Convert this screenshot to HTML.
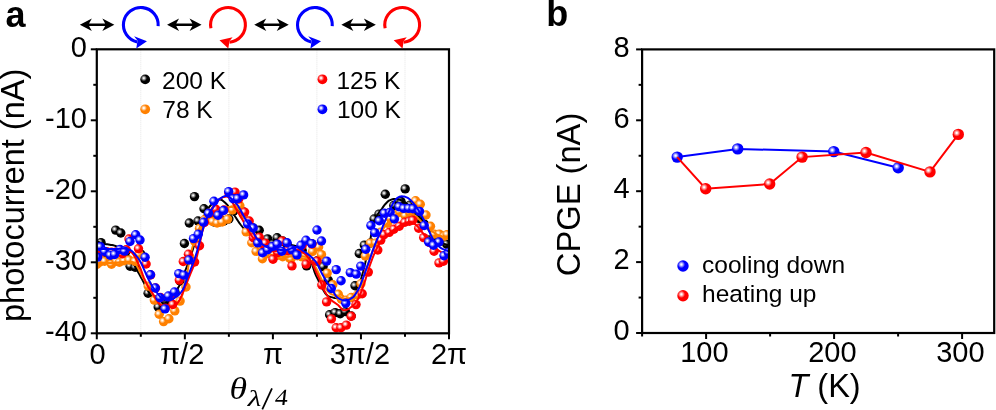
<!DOCTYPE html>
<html><head><meta charset="utf-8"><style>
html,body{margin:0;padding:0;background:#fff;width:996px;height:410px;overflow:hidden}
svg{display:block;will-change:transform}
</style></head><body>
<svg width="996" height="410" viewBox="0 0 996 410">
<defs>
<radialGradient id="gk" cx="0.36" cy="0.37" r="0.32">
<stop offset="0" stop-color="#f4f4f4"/><stop offset="0.15" stop-color="#f4f4f4"/>
<stop offset="1" stop-color="#000"/></radialGradient>
<radialGradient id="gr" cx="0.36" cy="0.37" r="0.32">
<stop offset="0" stop-color="#fff"/><stop offset="0.15" stop-color="#fff"/>
<stop offset="1" stop-color="#ff0000"/></radialGradient>
<radialGradient id="gb" cx="0.36" cy="0.37" r="0.32">
<stop offset="0" stop-color="#fff"/><stop offset="0.15" stop-color="#fff"/>
<stop offset="1" stop-color="#0000ff"/></radialGradient>
<radialGradient id="go" cx="0.36" cy="0.37" r="0.32">
<stop offset="0" stop-color="#fff"/><stop offset="0.15" stop-color="#fff"/>
<stop offset="1" stop-color="#ff8000"/></radialGradient>
<clipPath id="ca"><rect x="96.8" y="49.3" width="352.2" height="284.0"/></clipPath>
</defs>
<text x="5.5" y="26.5" font-family="Liberation Sans, sans-serif" font-size="36" font-weight="bold">a</text>
<text x="546.3" y="26.3" font-family="Liberation Sans, sans-serif" font-size="36" font-weight="bold">b</text>
<line x1="140.8" y1="50.3" x2="140.8" y2="332.3" stroke="#e4e4e4" stroke-width="1" stroke-dasharray="1,1"/>
<line x1="228.9" y1="50.3" x2="228.9" y2="332.3" stroke="#e4e4e4" stroke-width="1" stroke-dasharray="1,1"/>
<line x1="316.9" y1="50.3" x2="316.9" y2="332.3" stroke="#e4e4e4" stroke-width="1" stroke-dasharray="1,1"/>
<line x1="405.0" y1="50.3" x2="405.0" y2="332.3" stroke="#e4e4e4" stroke-width="1" stroke-dasharray="1,1"/>
<g clip-path="url(#ca)">
<circle cx="96.8" cy="250.0" r="4.7" fill="url(#gk)"/>
<circle cx="101.0" cy="242.6" r="4.7" fill="url(#gk)"/>
<circle cx="106.6" cy="253.0" r="4.7" fill="url(#gk)"/>
<circle cx="111.5" cy="255.0" r="4.7" fill="url(#gk)"/>
<circle cx="115.7" cy="230.1" r="4.7" fill="url(#gk)"/>
<circle cx="120.8" cy="233.0" r="4.7" fill="url(#gk)"/>
<circle cx="126.2" cy="251.1" r="4.7" fill="url(#gk)"/>
<circle cx="130.1" cy="266.3" r="4.7" fill="url(#gk)"/>
<circle cx="135.2" cy="267.3" r="4.7" fill="url(#gk)"/>
<circle cx="140.8" cy="254.0" r="4.7" fill="url(#gk)"/>
<circle cx="148.1" cy="293.2" r="4.7" fill="url(#gk)"/>
<circle cx="155.5" cy="299.9" r="4.7" fill="url(#gk)"/>
<circle cx="158.2" cy="307.0" r="4.7" fill="url(#gk)"/>
<circle cx="165.3" cy="301.1" r="4.7" fill="url(#gk)"/>
<circle cx="170.2" cy="296.7" r="4.7" fill="url(#gk)"/>
<circle cx="175.1" cy="292.6" r="4.7" fill="url(#gk)"/>
<circle cx="180.0" cy="281.0" r="4.7" fill="url(#gk)"/>
<circle cx="184.4" cy="243.5" r="4.7" fill="url(#gk)"/>
<circle cx="189.3" cy="223.0" r="4.7" fill="url(#gk)"/>
<circle cx="194.5" cy="196.6" r="4.7" fill="url(#gk)"/>
<circle cx="198.0" cy="221.0" r="4.7" fill="url(#gk)"/>
<circle cx="204.0" cy="208.8" r="4.7" fill="url(#gk)"/>
<circle cx="209.3" cy="215.5" r="4.7" fill="url(#gk)"/>
<circle cx="214.2" cy="222.0" r="4.7" fill="url(#gk)"/>
<circle cx="219.1" cy="222.0" r="4.7" fill="url(#gk)"/>
<circle cx="224.0" cy="221.0" r="4.7" fill="url(#gk)"/>
<circle cx="228.9" cy="219.0" r="4.7" fill="url(#gk)"/>
<circle cx="233.8" cy="211.0" r="4.7" fill="url(#gk)"/>
<circle cx="238.7" cy="206.0" r="4.7" fill="url(#gk)"/>
<circle cx="243.6" cy="212.0" r="4.7" fill="url(#gk)"/>
<circle cx="248.4" cy="224.0" r="4.7" fill="url(#gk)"/>
<circle cx="253.3" cy="228.0" r="4.7" fill="url(#gk)"/>
<circle cx="259.2" cy="230.2" r="4.7" fill="url(#gk)"/>
<circle cx="263.1" cy="252.0" r="4.7" fill="url(#gk)"/>
<circle cx="267.6" cy="238.9" r="4.7" fill="url(#gk)"/>
<circle cx="272.9" cy="244.0" r="4.7" fill="url(#gk)"/>
<circle cx="277.1" cy="237.8" r="4.7" fill="url(#gk)"/>
<circle cx="282.7" cy="241.0" r="4.7" fill="url(#gk)"/>
<circle cx="287.6" cy="245.6" r="4.7" fill="url(#gk)"/>
<circle cx="292.5" cy="250.0" r="4.7" fill="url(#gk)"/>
<circle cx="297.4" cy="254.0" r="4.7" fill="url(#gk)"/>
<circle cx="302.2" cy="250.6" r="4.7" fill="url(#gk)"/>
<circle cx="306.6" cy="265.9" r="4.7" fill="url(#gk)"/>
<circle cx="312.0" cy="244.0" r="4.7" fill="url(#gk)"/>
<circle cx="316.9" cy="261.0" r="4.7" fill="url(#gk)"/>
<circle cx="323.1" cy="266.6" r="4.7" fill="url(#gk)"/>
<circle cx="328.2" cy="280.1" r="4.7" fill="url(#gk)"/>
<circle cx="329.6" cy="314.8" r="4.7" fill="url(#gk)"/>
<circle cx="335.2" cy="312.6" r="4.7" fill="url(#gk)"/>
<circle cx="340.2" cy="313.8" r="4.7" fill="url(#gk)"/>
<circle cx="345.4" cy="311.6" r="4.7" fill="url(#gk)"/>
<circle cx="351.2" cy="316.0" r="4.7" fill="url(#gk)"/>
<circle cx="355.0" cy="285.8" r="4.7" fill="url(#gk)"/>
<circle cx="359.3" cy="253.5" r="4.7" fill="url(#gk)"/>
<circle cx="364.3" cy="245.1" r="4.7" fill="url(#gk)"/>
<circle cx="370.7" cy="243.0" r="4.7" fill="url(#gk)"/>
<circle cx="374.1" cy="219.0" r="4.7" fill="url(#gk)"/>
<circle cx="379.0" cy="214.1" r="4.7" fill="url(#gk)"/>
<circle cx="385.3" cy="194.3" r="4.7" fill="url(#gk)"/>
<circle cx="390.3" cy="212.4" r="4.7" fill="url(#gk)"/>
<circle cx="393.8" cy="205.5" r="4.7" fill="url(#gk)"/>
<circle cx="401.0" cy="201.5" r="4.7" fill="url(#gk)"/>
<circle cx="405.2" cy="188.9" r="4.7" fill="url(#gk)"/>
<circle cx="409.9" cy="205.1" r="4.7" fill="url(#gk)"/>
<circle cx="414.8" cy="210.3" r="4.7" fill="url(#gk)"/>
<circle cx="419.7" cy="218.8" r="4.7" fill="url(#gk)"/>
<circle cx="424.5" cy="224.2" r="4.7" fill="url(#gk)"/>
<circle cx="429.4" cy="240.0" r="4.7" fill="url(#gk)"/>
<circle cx="434.3" cy="238.2" r="4.7" fill="url(#gk)"/>
<circle cx="439.2" cy="239.5" r="4.7" fill="url(#gk)"/>
<circle cx="446.7" cy="244.2" r="4.7" fill="url(#gk)"/>
<path d="M96.8,241.0 L98.0,241.6 L99.2,242.1 L100.3,242.6 L101.5,243.0 L102.7,243.4 L103.9,243.7 L105.0,244.0 L106.2,244.2 L107.4,244.3 L108.6,244.5 L109.8,244.7 L110.9,244.9 L112.1,245.1 L113.3,245.3 L114.5,245.6 L115.6,246.0 L116.8,246.4 L118.0,246.8 L119.2,247.3 L120.4,247.8 L121.5,248.5 L122.7,249.1 L123.9,249.9 L125.1,250.9 L126.2,252.4 L127.4,254.0 L128.6,255.8 L129.8,257.7 L131.0,259.5 L132.1,261.5 L133.3,263.6 L134.5,265.7 L135.7,267.8 L136.8,269.9 L138.0,272.0 L139.2,274.1 L140.4,276.3 L141.6,278.4 L142.7,280.6 L143.9,282.8 L145.1,285.2 L146.3,287.6 L147.5,289.9 L148.6,292.0 L149.8,293.5 L151.0,294.9 L152.2,296.2 L153.3,297.4 L154.5,298.3 L155.7,298.9 L156.9,299.3 L158.1,299.6 L159.2,299.9 L160.4,300.1 L161.6,300.3 L162.8,300.5 L163.9,300.5 L165.1,300.4 L166.3,300.0 L167.5,299.4 L168.7,298.6 L169.8,297.7 L171.0,296.8 L172.2,295.8 L173.4,294.7 L174.5,293.3 L175.7,291.6 L176.9,289.8 L178.1,287.9 L179.3,285.6 L180.4,283.0 L181.6,280.1 L182.8,277.1 L184.0,274.1 L185.1,271.1 L186.3,268.0 L187.5,264.8 L188.7,261.6 L189.9,258.2 L191.0,254.8 L192.2,251.4 L193.4,247.6 L194.6,243.6 L195.7,239.4 L196.9,235.2 L198.1,231.2 L199.3,227.3 L200.5,223.8 L201.6,220.8 L202.8,218.3 L204.0,215.9 L205.2,213.6 L206.3,211.5 L207.5,209.5 L208.7,207.7 L209.9,206.2 L211.1,204.9 L212.2,203.8 L213.4,202.8 L214.6,201.9 L215.8,201.1 L216.9,200.4 L218.1,199.9 L219.3,199.6 L220.5,199.5 L221.7,200.0 L222.8,200.7 L224.0,201.7 L225.2,202.8 L226.4,203.9 L227.5,205.2 L228.7,206.8 L229.9,208.5 L231.1,210.4 L232.3,212.2 L233.4,213.9 L234.6,215.7 L235.8,217.5 L237.0,219.4 L238.2,221.2 L239.3,222.9 L240.5,224.5 L241.7,226.0 L242.9,227.5 L244.0,228.9 L245.2,230.3 L246.4,231.6 L247.6,232.8 L248.8,234.0 L249.9,234.9 L251.1,235.8 L252.3,236.7 L253.5,237.5 L254.6,238.3 L255.8,239.0 L257.0,239.7 L258.2,240.3 L259.4,240.8 L260.5,241.2 L261.7,241.6 L262.9,242.0 L264.1,242.3 L265.2,242.7 L266.4,243.0 L267.6,243.2 L268.8,243.5 L270.0,243.7 L271.1,243.9 L272.3,244.0 L273.5,244.2 L274.7,244.3 L275.8,244.4 L277.0,244.5 L278.2,244.6 L279.4,244.7 L280.6,244.7 L281.7,244.8 L282.9,244.9 L284.1,245.0 L285.3,245.0 L286.4,245.1 L287.6,245.1 L288.8,245.1 L290.0,245.2 L291.2,245.2 L292.3,245.3 L293.5,245.5 L294.7,245.8 L295.9,246.2 L297.0,246.6 L298.2,247.2 L299.4,247.8 L300.6,248.5 L301.8,249.3 L302.9,250.2 L304.1,251.3 L305.3,252.6 L306.5,253.9 L307.6,255.5 L308.8,257.3 L310.0,259.5 L311.2,262.1 L312.4,265.0 L313.5,268.8 L314.7,272.5 L315.9,275.4 L317.1,277.7 L318.3,280.1 L319.4,282.8 L320.6,285.3 L321.8,287.6 L323.0,289.6 L324.1,291.6 L325.3,293.4 L326.5,294.8 L327.7,295.8 L328.9,296.4 L330.0,296.8 L331.2,297.1 L332.4,297.4 L333.6,297.7 L334.7,297.9 L335.9,298.1 L337.1,298.3 L338.3,298.6 L339.5,298.8 L340.6,299.2 L341.8,299.7 L343.0,300.2 L344.2,300.7 L345.3,301.0 L346.5,301.0 L347.7,300.7 L348.9,300.1 L350.1,299.4 L351.2,298.6 L352.4,297.7 L353.6,296.3 L354.8,294.5 L355.9,292.3 L357.1,289.9 L358.3,287.3 L359.5,284.1 L360.7,280.4 L361.8,276.3 L363.0,272.0 L364.2,267.3 L365.4,262.3 L366.5,257.0 L367.7,251.7 L368.9,246.3 L370.1,240.6 L371.3,234.3 L372.4,228.3 L373.6,223.9 L374.8,220.5 L376.0,217.6 L377.1,215.2 L378.3,213.4 L379.5,211.9 L380.7,210.4 L381.9,208.8 L383.0,207.1 L384.2,205.4 L385.4,204.0 L386.6,202.7 L387.7,201.6 L388.9,200.7 L390.1,200.1 L391.3,199.6 L392.5,199.2 L393.6,199.0 L394.8,199.0 L396.0,199.1 L397.2,199.3 L398.3,199.5 L399.5,199.7 L400.7,200.0 L401.9,200.5 L403.1,201.1 L404.2,201.8 L405.4,202.6 L406.6,203.4 L407.8,204.4 L409.0,205.4 L410.1,206.6 L411.3,207.9 L412.5,209.2 L413.7,210.5 L414.8,211.8 L416.0,213.2 L417.2,214.6 L418.4,216.1 L419.6,217.7 L420.7,219.3 L421.9,220.9 L423.1,222.5 L424.3,224.0 L425.4,225.6 L426.6,227.2 L427.8,229.0 L429.0,230.7 L430.2,232.4 L431.3,234.1 L432.5,235.5 L433.7,236.8 L434.9,237.9 L436.0,238.8 L437.2,239.6 L438.4,240.5 L439.6,241.3 L440.8,242.0 L441.9,242.7 L443.1,243.3 L444.3,243.9 L445.5,244.3 L446.6,244.7 L447.8,244.9 L449.0,245.0" fill="none" stroke="#000" stroke-width="2"/>
<circle cx="96.8" cy="264.4" r="4.7" fill="url(#go)"/>
<circle cx="99.5" cy="262.2" r="4.7" fill="url(#go)"/>
<circle cx="104.6" cy="261.2" r="4.7" fill="url(#go)"/>
<circle cx="111.5" cy="264.3" r="4.7" fill="url(#go)"/>
<circle cx="116.4" cy="261.2" r="4.7" fill="url(#go)"/>
<circle cx="119.4" cy="262.2" r="4.7" fill="url(#go)"/>
<circle cx="124.1" cy="260.8" r="4.7" fill="url(#go)"/>
<circle cx="129.1" cy="260.0" r="4.7" fill="url(#go)"/>
<circle cx="134.8" cy="261.3" r="4.7" fill="url(#go)"/>
<circle cx="139.1" cy="254.4" r="4.7" fill="url(#go)"/>
<circle cx="148.2" cy="286.1" r="4.7" fill="url(#go)"/>
<circle cx="154.3" cy="300.1" r="4.7" fill="url(#go)"/>
<circle cx="159.2" cy="314.3" r="4.7" fill="url(#go)"/>
<circle cx="163.6" cy="321.6" r="4.7" fill="url(#go)"/>
<circle cx="168.9" cy="318.7" r="4.7" fill="url(#go)"/>
<circle cx="174.8" cy="310.9" r="4.7" fill="url(#go)"/>
<circle cx="180.1" cy="301.1" r="4.7" fill="url(#go)"/>
<circle cx="186.0" cy="287.0" r="4.7" fill="url(#go)"/>
<circle cx="189.7" cy="256.9" r="4.7" fill="url(#go)"/>
<circle cx="194.6" cy="241.2" r="4.7" fill="url(#go)"/>
<circle cx="199.5" cy="228.4" r="4.7" fill="url(#go)"/>
<circle cx="204.4" cy="219.7" r="4.7" fill="url(#go)"/>
<circle cx="209.3" cy="213.2" r="4.7" fill="url(#go)"/>
<circle cx="212.6" cy="221.5" r="4.7" fill="url(#go)"/>
<circle cx="217.1" cy="223.0" r="4.7" fill="url(#go)"/>
<circle cx="222.1" cy="222.0" r="4.7" fill="url(#go)"/>
<circle cx="227.6" cy="219.1" r="4.7" fill="url(#go)"/>
<circle cx="232.4" cy="210.0" r="4.7" fill="url(#go)"/>
<circle cx="239.9" cy="205.7" r="4.7" fill="url(#go)"/>
<circle cx="243.6" cy="214.8" r="4.7" fill="url(#go)"/>
<circle cx="246.2" cy="231.9" r="4.7" fill="url(#go)"/>
<circle cx="251.8" cy="242.7" r="4.7" fill="url(#go)"/>
<circle cx="256.1" cy="251.4" r="4.7" fill="url(#go)"/>
<circle cx="262.4" cy="258.7" r="4.7" fill="url(#go)"/>
<circle cx="268.0" cy="253.8" r="4.7" fill="url(#go)"/>
<circle cx="272.9" cy="255.5" r="4.7" fill="url(#go)"/>
<circle cx="277.8" cy="255.3" r="4.7" fill="url(#go)"/>
<circle cx="282.7" cy="256.7" r="4.7" fill="url(#go)"/>
<circle cx="289.5" cy="257.9" r="4.7" fill="url(#go)"/>
<circle cx="291.0" cy="259.0" r="4.7" fill="url(#go)"/>
<circle cx="297.4" cy="255.7" r="4.7" fill="url(#go)"/>
<circle cx="302.2" cy="256.9" r="4.7" fill="url(#go)"/>
<circle cx="304.9" cy="256.8" r="4.7" fill="url(#go)"/>
<circle cx="312.5" cy="251.5" r="4.7" fill="url(#go)"/>
<circle cx="318.6" cy="247.0" r="4.7" fill="url(#go)"/>
<circle cx="321.5" cy="254.6" r="4.7" fill="url(#go)"/>
<circle cx="327.2" cy="273.1" r="4.7" fill="url(#go)"/>
<circle cx="332.8" cy="284.8" r="4.7" fill="url(#go)"/>
<circle cx="338.3" cy="294.3" r="4.7" fill="url(#go)"/>
<circle cx="341.4" cy="299.2" r="4.7" fill="url(#go)"/>
<circle cx="346.3" cy="300.3" r="4.7" fill="url(#go)"/>
<circle cx="351.2" cy="297.5" r="4.7" fill="url(#go)"/>
<circle cx="357.4" cy="295.0" r="4.7" fill="url(#go)"/>
<circle cx="360.9" cy="283.7" r="4.7" fill="url(#go)"/>
<circle cx="365.3" cy="256.0" r="4.7" fill="url(#go)"/>
<circle cx="370.3" cy="243.1" r="4.7" fill="url(#go)"/>
<circle cx="375.6" cy="243.1" r="4.7" fill="url(#go)"/>
<circle cx="380.5" cy="232.2" r="4.7" fill="url(#go)"/>
<circle cx="387.5" cy="223.2" r="4.7" fill="url(#go)"/>
<circle cx="390.3" cy="218.3" r="4.7" fill="url(#go)"/>
<circle cx="395.2" cy="214.9" r="4.7" fill="url(#go)"/>
<circle cx="400.1" cy="212.3" r="4.7" fill="url(#go)"/>
<circle cx="405.1" cy="215.6" r="4.7" fill="url(#go)"/>
<circle cx="409.9" cy="212.8" r="4.7" fill="url(#go)"/>
<circle cx="415.6" cy="200.8" r="4.7" fill="url(#go)"/>
<circle cx="420.3" cy="204.2" r="4.7" fill="url(#go)"/>
<circle cx="426.0" cy="215.0" r="4.7" fill="url(#go)"/>
<circle cx="430.5" cy="226.3" r="4.7" fill="url(#go)"/>
<circle cx="434.4" cy="234.1" r="4.7" fill="url(#go)"/>
<circle cx="439.3" cy="234.1" r="4.7" fill="url(#go)"/>
<circle cx="444.1" cy="236.1" r="4.7" fill="url(#go)"/>
<circle cx="447.1" cy="234.6" r="4.7" fill="url(#go)"/>
<path d="M96.8,263.0 L98.0,263.0 L99.2,263.0 L100.3,263.0 L101.5,263.0 L102.7,263.0 L103.9,263.0 L105.0,263.0 L106.2,263.0 L107.4,263.0 L108.6,263.0 L109.8,263.0 L110.9,263.0 L112.1,262.9 L113.3,262.9 L114.5,262.8 L115.6,262.6 L116.8,262.5 L118.0,262.4 L119.2,262.3 L120.4,262.2 L121.5,262.1 L122.7,262.0 L123.9,262.0 L125.1,262.0 L126.2,262.0 L127.4,262.0 L128.6,262.0 L129.8,262.0 L131.0,262.0 L132.1,262.1 L133.3,262.5 L134.5,263.0 L135.7,263.9 L136.8,265.8 L138.0,268.0 L139.2,270.3 L140.4,272.8 L141.6,275.1 L142.7,277.3 L143.9,279.3 L145.1,281.4 L146.3,283.5 L147.5,285.7 L148.6,287.9 L149.8,290.0 L151.0,292.1 L152.2,294.0 L153.3,295.8 L154.5,297.7 L155.7,299.4 L156.9,300.9 L158.1,302.0 L159.2,303.1 L160.4,304.1 L161.6,305.1 L162.8,305.9 L163.9,306.5 L165.1,306.9 L166.3,307.0 L167.5,306.9 L168.7,306.6 L169.8,306.2 L171.0,305.7 L172.2,305.1 L173.4,304.5 L174.5,303.8 L175.7,303.2 L176.9,302.5 L178.1,301.8 L179.3,300.8 L180.4,299.4 L181.6,297.0 L182.8,293.6 L184.0,289.5 L185.1,285.0 L186.3,279.3 L187.5,272.0 L188.7,264.3 L189.9,257.6 L191.0,252.5 L192.2,248.0 L193.4,244.0 L194.6,240.4 L195.7,237.0 L196.9,233.9 L198.1,230.9 L199.3,228.2 L200.5,225.7 L201.6,223.5 L202.8,221.5 L204.0,219.7 L205.2,218.1 L206.3,216.7 L207.5,215.5 L208.7,214.4 L209.9,213.3 L211.1,212.4 L212.2,211.6 L213.4,210.9 L214.6,210.4 L215.8,210.0 L216.9,209.6 L218.1,209.3 L219.3,209.1 L220.5,208.8 L221.7,208.5 L222.8,208.3 L224.0,208.1 L225.2,207.8 L226.4,207.5 L227.5,207.3 L228.7,207.1 L229.9,207.0 L231.1,207.0 L232.3,207.1 L233.4,207.2 L234.6,207.3 L235.8,207.4 L237.0,207.7 L238.2,208.5 L239.3,209.7 L240.5,211.0 L241.7,212.2 L242.9,213.6 L244.0,215.1 L245.2,216.8 L246.4,218.8 L247.6,221.0 L248.8,223.8 L249.9,226.8 L251.1,229.9 L252.3,232.7 L253.5,235.5 L254.6,238.5 L255.8,241.2 L257.0,243.5 L258.2,245.2 L259.4,246.5 L260.5,247.7 L261.7,248.9 L262.9,249.9 L264.1,250.9 L265.2,251.7 L266.4,252.5 L267.6,253.2 L268.8,253.8 L270.0,254.3 L271.1,254.8 L272.3,255.1 L273.5,255.4 L274.7,255.6 L275.8,255.9 L277.0,256.1 L278.2,256.4 L279.4,256.5 L280.6,256.7 L281.7,256.8 L282.9,256.9 L284.1,257.0 L285.3,257.0 L286.4,257.0 L287.6,256.9 L288.8,256.8 L290.0,256.6 L291.2,256.5 L292.3,256.3 L293.5,256.2 L294.7,256.1 L295.9,256.0 L297.0,256.0 L298.2,256.0 L299.4,256.0 L300.6,256.1 L301.8,256.2 L302.9,256.3 L304.1,256.4 L305.3,256.5 L306.5,257.0 L307.6,257.8 L308.8,258.9 L310.0,260.0 L311.2,261.2 L312.4,262.5 L313.5,264.0 L314.7,265.8 L315.9,267.7 L317.1,270.0 L318.3,272.6 L319.4,275.0 L320.6,277.5 L321.8,280.0 L323.0,282.8 L324.1,285.5 L325.3,287.9 L326.5,289.7 L327.7,291.1 L328.9,292.4 L330.0,293.4 L331.2,294.1 L332.4,294.5 L333.6,294.9 L334.7,295.2 L335.9,295.4 L337.1,295.7 L338.3,296.1 L339.5,296.6 L340.6,297.3 L341.8,298.0 L343.0,298.5 L344.2,298.9 L345.3,299.0 L346.5,298.9 L347.7,298.6 L348.9,298.3 L350.1,297.9 L351.2,297.4 L352.4,296.8 L353.6,295.9 L354.8,294.6 L355.9,293.1 L357.1,291.4 L358.3,289.5 L359.5,287.3 L360.7,284.6 L361.8,281.6 L363.0,278.3 L364.2,275.0 L365.4,271.7 L366.5,268.5 L367.7,265.1 L368.9,261.6 L370.1,258.1 L371.3,254.6 L372.4,251.4 L373.6,248.5 L374.8,245.7 L376.0,243.0 L377.1,240.4 L378.3,237.9 L379.5,235.5 L380.7,233.3 L381.9,231.2 L383.0,229.3 L384.2,227.5 L385.4,225.7 L386.6,224.1 L387.7,222.6 L388.9,221.2 L390.1,219.9 L391.3,218.6 L392.5,217.4 L393.6,216.3 L394.8,215.3 L396.0,214.5 L397.2,213.9 L398.3,213.5 L399.5,213.1 L400.7,212.7 L401.9,212.4 L403.1,212.2 L404.2,212.0 L405.4,212.0 L406.6,212.1 L407.8,212.4 L409.0,212.8 L410.1,213.2 L411.3,213.7 L412.5,214.2 L413.7,214.9 L414.8,215.7 L416.0,216.6 L417.2,217.6 L418.4,218.7 L419.6,219.8 L420.7,220.9 L421.9,221.9 L423.1,223.0 L424.3,224.1 L425.4,225.2 L426.6,226.4 L427.8,227.6 L429.0,228.7 L430.2,229.8 L431.3,230.8 L432.5,231.7 L433.7,232.4 L434.9,233.2 L436.0,233.9 L437.2,234.6 L438.4,235.1 L439.6,235.6 L440.8,235.9 L441.9,236.2 L443.1,236.4 L444.3,236.6 L445.5,236.8 L446.6,236.9 L447.8,237.0 L449.0,237.0" fill="none" stroke="#ff8000" stroke-width="2"/>
<circle cx="96.8" cy="251.2" r="4.7" fill="url(#gr)"/>
<circle cx="101.7" cy="252.1" r="4.7" fill="url(#gr)"/>
<circle cx="106.6" cy="251.6" r="4.7" fill="url(#gr)"/>
<circle cx="111.5" cy="252.3" r="4.7" fill="url(#gr)"/>
<circle cx="116.4" cy="251.9" r="4.7" fill="url(#gr)"/>
<circle cx="122.3" cy="253.8" r="4.7" fill="url(#gr)"/>
<circle cx="126.2" cy="249.8" r="4.7" fill="url(#gr)"/>
<circle cx="129.0" cy="239.0" r="4.7" fill="url(#gr)"/>
<circle cx="138.5" cy="248.7" r="4.7" fill="url(#gr)"/>
<circle cx="146.1" cy="264.0" r="4.7" fill="url(#gr)"/>
<circle cx="150.6" cy="275.0" r="4.7" fill="url(#gr)"/>
<circle cx="155.5" cy="288.0" r="4.7" fill="url(#gr)"/>
<circle cx="160.4" cy="297.5" r="4.7" fill="url(#gr)"/>
<circle cx="165.3" cy="308.3" r="4.7" fill="url(#gr)"/>
<circle cx="170.2" cy="296.5" r="4.7" fill="url(#gr)"/>
<circle cx="172.8" cy="304.5" r="4.7" fill="url(#gr)"/>
<circle cx="179.3" cy="280.1" r="4.7" fill="url(#gr)"/>
<circle cx="183.3" cy="261.5" r="4.7" fill="url(#gr)"/>
<circle cx="188.4" cy="254.2" r="4.7" fill="url(#gr)"/>
<circle cx="194.6" cy="262.0" r="4.7" fill="url(#gr)"/>
<circle cx="199.5" cy="245.8" r="4.7" fill="url(#gr)"/>
<circle cx="204.4" cy="222.5" r="4.7" fill="url(#gr)"/>
<circle cx="209.3" cy="213.5" r="4.7" fill="url(#gr)"/>
<circle cx="215.7" cy="209.1" r="4.7" fill="url(#gr)"/>
<circle cx="219.1" cy="214.0" r="4.7" fill="url(#gr)"/>
<circle cx="224.0" cy="210.0" r="4.7" fill="url(#gr)"/>
<circle cx="228.9" cy="193.0" r="4.7" fill="url(#gr)"/>
<circle cx="235.0" cy="192.1" r="4.7" fill="url(#gr)"/>
<circle cx="238.7" cy="199.0" r="4.7" fill="url(#gr)"/>
<circle cx="244.6" cy="212.1" r="4.7" fill="url(#gr)"/>
<circle cx="249.2" cy="221.0" r="4.7" fill="url(#gr)"/>
<circle cx="253.3" cy="237.6" r="4.7" fill="url(#gr)"/>
<circle cx="259.3" cy="237.3" r="4.7" fill="url(#gr)"/>
<circle cx="265.3" cy="243.1" r="4.7" fill="url(#gr)"/>
<circle cx="268.0" cy="249.4" r="4.7" fill="url(#gr)"/>
<circle cx="273.0" cy="259.2" r="4.7" fill="url(#gr)"/>
<circle cx="277.8" cy="252.5" r="4.7" fill="url(#gr)"/>
<circle cx="282.0" cy="241.0" r="4.7" fill="url(#gr)"/>
<circle cx="287.6" cy="250.8" r="4.7" fill="url(#gr)"/>
<circle cx="292.0" cy="265.9" r="4.7" fill="url(#gr)"/>
<circle cx="297.4" cy="251.0" r="4.7" fill="url(#gr)"/>
<circle cx="302.2" cy="245.5" r="4.7" fill="url(#gr)"/>
<circle cx="306.1" cy="264.1" r="4.7" fill="url(#gr)"/>
<circle cx="312.0" cy="244.0" r="4.7" fill="url(#gr)"/>
<circle cx="317.0" cy="261.1" r="4.7" fill="url(#gr)"/>
<circle cx="321.8" cy="285.0" r="4.7" fill="url(#gr)"/>
<circle cx="326.6" cy="301.9" r="4.7" fill="url(#gr)"/>
<circle cx="331.4" cy="318.9" r="4.7" fill="url(#gr)"/>
<circle cx="336.2" cy="327.8" r="4.7" fill="url(#gr)"/>
<circle cx="341.0" cy="327.8" r="4.7" fill="url(#gr)"/>
<circle cx="346.4" cy="325.1" r="4.7" fill="url(#gr)"/>
<circle cx="351.2" cy="316.2" r="4.7" fill="url(#gr)"/>
<circle cx="356.0" cy="304.6" r="4.7" fill="url(#gr)"/>
<circle cx="362.2" cy="293.7" r="4.7" fill="url(#gr)"/>
<circle cx="368.3" cy="272.1" r="4.7" fill="url(#gr)"/>
<circle cx="377.8" cy="250.0" r="4.7" fill="url(#gr)"/>
<circle cx="380.8" cy="240.1" r="4.7" fill="url(#gr)"/>
<circle cx="384.0" cy="234.6" r="4.7" fill="url(#gr)"/>
<circle cx="389.2" cy="232.4" r="4.7" fill="url(#gr)"/>
<circle cx="393.9" cy="229.2" r="4.7" fill="url(#gr)"/>
<circle cx="399.3" cy="226.3" r="4.7" fill="url(#gr)"/>
<circle cx="404.8" cy="222.3" r="4.7" fill="url(#gr)"/>
<circle cx="409.3" cy="221.3" r="4.7" fill="url(#gr)"/>
<circle cx="412.8" cy="220.3" r="4.7" fill="url(#gr)"/>
<circle cx="418.7" cy="228.3" r="4.7" fill="url(#gr)"/>
<circle cx="423.7" cy="237.6" r="4.7" fill="url(#gr)"/>
<circle cx="429.4" cy="242.4" r="4.7" fill="url(#gr)"/>
<circle cx="434.1" cy="251.3" r="4.7" fill="url(#gr)"/>
<circle cx="439.0" cy="262.9" r="4.7" fill="url(#gr)"/>
<circle cx="443.4" cy="261.2" r="4.7" fill="url(#gr)"/>
<circle cx="449.0" cy="254.0" r="4.7" fill="url(#gr)"/>
<path d="M96.8,252.0 L98.0,252.0 L99.2,252.0 L100.3,252.0 L101.5,252.0 L102.7,252.0 L103.9,252.0 L105.0,252.0 L106.2,252.0 L107.4,252.0 L108.6,252.0 L109.8,252.0 L110.9,252.0 L112.1,251.9 L113.3,251.9 L114.5,251.8 L115.6,251.6 L116.8,251.5 L118.0,251.4 L119.2,251.3 L120.4,251.2 L121.5,251.1 L122.7,251.0 L123.9,251.0 L125.1,251.0 L126.2,251.1 L127.4,251.2 L128.6,251.4 L129.8,251.7 L131.0,252.0 L132.1,252.8 L133.3,254.3 L134.5,256.2 L135.7,258.1 L136.8,260.5 L138.0,263.1 L139.2,265.7 L140.4,268.5 L141.6,271.5 L142.7,274.7 L143.9,277.8 L145.1,280.5 L146.3,282.9 L147.5,285.2 L148.6,287.4 L149.8,289.3 L151.0,291.1 L152.2,292.9 L153.3,294.6 L154.5,296.4 L155.7,298.4 L156.9,300.4 L158.1,302.3 L159.2,303.8 L160.4,304.8 L161.6,305.6 L162.8,306.4 L163.9,306.8 L165.1,307.0 L166.3,307.0 L167.5,307.0 L168.7,306.9 L169.8,306.9 L171.0,306.8 L172.2,306.6 L173.4,306.1 L174.5,305.5 L175.7,304.7 L176.9,303.7 L178.1,302.3 L179.3,300.6 L180.4,298.3 L181.6,295.6 L182.8,292.7 L184.0,289.9 L185.1,287.0 L186.3,284.1 L187.5,281.1 L188.7,278.1 L189.9,275.1 L191.0,272.3 L192.2,269.5 L193.4,266.7 L194.6,263.7 L195.7,260.4 L196.9,256.5 L198.1,251.6 L199.3,246.0 L200.5,240.1 L201.6,234.6 L202.8,229.8 L204.0,226.0 L205.2,222.7 L206.3,219.7 L207.5,217.1 L208.7,214.8 L209.9,212.8 L211.1,210.8 L212.2,208.9 L213.4,207.2 L214.6,205.5 L215.8,203.8 L216.9,202.2 L218.1,200.7 L219.3,199.5 L220.5,198.6 L221.7,197.8 L222.8,197.2 L224.0,196.9 L225.2,196.7 L226.4,196.5 L227.5,196.6 L228.7,197.6 L229.9,199.1 L231.1,200.6 L232.3,202.3 L233.4,204.2 L234.6,206.2 L235.8,208.4 L237.0,210.4 L238.2,212.4 L239.3,214.4 L240.5,216.4 L241.7,218.5 L242.9,220.5 L244.0,222.6 L245.2,224.7 L246.4,226.8 L247.6,229.0 L248.8,231.1 L249.9,233.1 L251.1,235.0 L252.3,236.8 L253.5,238.5 L254.6,240.1 L255.8,241.6 L257.0,243.0 L258.2,244.2 L259.4,245.2 L260.5,246.2 L261.7,247.1 L262.9,247.9 L264.1,248.6 L265.2,249.1 L266.4,249.6 L267.6,250.0 L268.8,250.4 L270.0,250.8 L271.1,251.0 L272.3,251.0 L273.5,251.0 L274.7,251.0 L275.8,251.0 L277.0,251.0 L278.2,251.0 L279.4,251.0 L280.6,251.0 L281.7,251.0 L282.9,251.0 L284.1,251.0 L285.3,251.0 L286.4,251.0 L287.6,250.9 L288.8,250.8 L290.0,250.6 L291.2,250.5 L292.3,250.3 L293.5,250.2 L294.7,250.1 L295.9,250.0 L297.0,250.0 L298.2,250.2 L299.4,250.6 L300.6,251.1 L301.8,251.8 L302.9,252.5 L304.1,253.3 L305.3,254.2 L306.5,255.4 L307.6,256.8 L308.8,258.4 L310.0,260.0 L311.2,261.8 L312.4,263.8 L313.5,266.1 L314.7,268.6 L315.9,271.4 L317.1,274.1 L318.3,276.7 L319.4,279.2 L320.6,282.0 L321.8,285.0 L323.0,287.8 L324.1,290.3 L325.3,292.4 L326.5,294.3 L327.7,296.1 L328.9,297.7 L330.0,299.0 L331.2,300.1 L332.4,301.1 L333.6,301.9 L334.7,302.7 L335.9,303.5 L337.1,304.3 L338.3,305.2 L339.5,306.5 L340.6,307.8 L341.8,309.1 L343.0,310.0 L344.2,310.3 L345.3,310.1 L346.5,309.8 L347.7,309.3 L348.9,308.6 L350.1,307.8 L351.2,307.0 L352.4,306.2 L353.6,305.1 L354.8,303.8 L355.9,302.2 L357.1,300.4 L358.3,298.5 L359.5,296.1 L360.7,293.2 L361.8,290.1 L363.0,286.8 L364.2,283.5 L365.4,279.9 L366.5,276.0 L367.7,272.1 L368.9,268.3 L370.1,264.8 L371.3,261.5 L372.4,258.4 L373.6,255.4 L374.8,252.6 L376.0,250.1 L377.1,247.8 L378.3,245.6 L379.5,243.5 L380.7,241.7 L381.9,240.2 L383.0,238.9 L384.2,237.7 L385.4,236.7 L386.6,235.7 L387.7,234.8 L388.9,233.9 L390.1,232.9 L391.3,231.9 L392.5,231.0 L393.6,230.0 L394.8,229.1 L396.0,228.2 L397.2,227.4 L398.3,226.6 L399.5,225.8 L400.7,225.1 L401.9,224.4 L403.1,223.9 L404.2,223.4 L405.4,223.0 L406.6,222.6 L407.8,222.3 L409.0,222.1 L410.1,222.0 L411.3,222.2 L412.5,222.7 L413.7,223.4 L414.8,224.2 L416.0,225.0 L417.2,226.0 L418.4,227.3 L419.6,228.8 L420.7,230.4 L421.9,231.9 L423.1,233.4 L424.3,234.9 L425.4,236.5 L426.6,238.2 L427.8,239.8 L429.0,241.4 L430.2,242.9 L431.3,244.3 L432.5,245.5 L433.7,246.6 L434.9,247.7 L436.0,248.7 L437.2,249.6 L438.4,250.4 L439.6,251.2 L440.8,251.9 L441.9,252.5 L443.1,253.0 L444.3,253.5 L445.5,254.0 L446.6,254.4 L447.8,254.7 L449.0,255.0" fill="none" stroke="#ff0000" stroke-width="2"/>
<circle cx="97.7" cy="257.1" r="4.7" fill="url(#gb)"/>
<circle cx="100.4" cy="246.8" r="4.7" fill="url(#gb)"/>
<circle cx="104.7" cy="251.5" r="4.7" fill="url(#gb)"/>
<circle cx="110.1" cy="255.2" r="4.7" fill="url(#gb)"/>
<circle cx="114.6" cy="254.5" r="4.7" fill="url(#gb)"/>
<circle cx="120.0" cy="249.5" r="4.7" fill="url(#gb)"/>
<circle cx="124.5" cy="251.1" r="4.7" fill="url(#gb)"/>
<circle cx="130.0" cy="241.5" r="4.7" fill="url(#gb)"/>
<circle cx="135.7" cy="234.7" r="4.7" fill="url(#gb)"/>
<circle cx="140.0" cy="240.0" r="4.7" fill="url(#gb)"/>
<circle cx="145.1" cy="257.2" r="4.7" fill="url(#gb)"/>
<circle cx="150.5" cy="274.7" r="4.7" fill="url(#gb)"/>
<circle cx="155.3" cy="288.0" r="4.7" fill="url(#gb)"/>
<circle cx="160.0" cy="297.7" r="4.7" fill="url(#gb)"/>
<circle cx="165.0" cy="308.9" r="4.7" fill="url(#gb)"/>
<circle cx="168.4" cy="296.0" r="4.7" fill="url(#gb)"/>
<circle cx="174.5" cy="292.0" r="4.7" fill="url(#gb)"/>
<circle cx="178.8" cy="273.6" r="4.7" fill="url(#gb)"/>
<circle cx="183.9" cy="275.1" r="4.7" fill="url(#gb)"/>
<circle cx="188.9" cy="260.0" r="4.7" fill="url(#gb)"/>
<circle cx="193.5" cy="238.6" r="4.7" fill="url(#gb)"/>
<circle cx="198.2" cy="234.2" r="4.7" fill="url(#gb)"/>
<circle cx="203.5" cy="222.2" r="4.7" fill="url(#gb)"/>
<circle cx="208.5" cy="213.3" r="4.7" fill="url(#gb)"/>
<circle cx="213.9" cy="201.3" r="4.7" fill="url(#gb)"/>
<circle cx="218.0" cy="215.2" r="4.7" fill="url(#gb)"/>
<circle cx="223.5" cy="210.5" r="4.7" fill="url(#gb)"/>
<circle cx="228.7" cy="191.6" r="4.7" fill="url(#gb)"/>
<circle cx="233.2" cy="198.8" r="4.7" fill="url(#gb)"/>
<circle cx="237.6" cy="198.5" r="4.7" fill="url(#gb)"/>
<circle cx="243.6" cy="194.9" r="4.7" fill="url(#gb)"/>
<circle cx="247.7" cy="224.0" r="4.7" fill="url(#gb)"/>
<circle cx="253.2" cy="228.0" r="4.7" fill="url(#gb)"/>
<circle cx="257.8" cy="242.9" r="4.7" fill="url(#gb)"/>
<circle cx="262.6" cy="252.8" r="4.7" fill="url(#gb)"/>
<circle cx="267.6" cy="249.7" r="4.7" fill="url(#gb)"/>
<circle cx="272.4" cy="246.5" r="4.7" fill="url(#gb)"/>
<circle cx="277.3" cy="244.1" r="4.7" fill="url(#gb)"/>
<circle cx="281.8" cy="251.2" r="4.7" fill="url(#gb)"/>
<circle cx="287.1" cy="242.8" r="4.7" fill="url(#gb)"/>
<circle cx="292.0" cy="249.9" r="4.7" fill="url(#gb)"/>
<circle cx="297.0" cy="254.9" r="4.7" fill="url(#gb)"/>
<circle cx="301.0" cy="245.2" r="4.7" fill="url(#gb)"/>
<circle cx="306.0" cy="240.2" r="4.7" fill="url(#gb)"/>
<circle cx="311.8" cy="243.6" r="4.7" fill="url(#gb)"/>
<circle cx="317.0" cy="230.0" r="4.7" fill="url(#gb)"/>
<circle cx="321.5" cy="241.0" r="4.7" fill="url(#gb)"/>
<circle cx="326.7" cy="261.1" r="4.7" fill="url(#gb)"/>
<circle cx="331.3" cy="288.5" r="4.7" fill="url(#gb)"/>
<circle cx="336.2" cy="269.6" r="4.7" fill="url(#gb)"/>
<circle cx="341.1" cy="280.7" r="4.7" fill="url(#gb)"/>
<circle cx="345.8" cy="303.2" r="4.7" fill="url(#gb)"/>
<circle cx="350.3" cy="272.6" r="4.7" fill="url(#gb)"/>
<circle cx="356.3" cy="274.1" r="4.7" fill="url(#gb)"/>
<circle cx="360.8" cy="266.1" r="4.7" fill="url(#gb)"/>
<circle cx="365.8" cy="249.3" r="4.7" fill="url(#gb)"/>
<circle cx="370.9" cy="225.5" r="4.7" fill="url(#gb)"/>
<circle cx="374.8" cy="232.6" r="4.7" fill="url(#gb)"/>
<circle cx="379.3" cy="220.8" r="4.7" fill="url(#gb)"/>
<circle cx="384.3" cy="213.2" r="4.7" fill="url(#gb)"/>
<circle cx="390.1" cy="212.4" r="4.7" fill="url(#gb)"/>
<circle cx="394.4" cy="219.0" r="4.7" fill="url(#gb)"/>
<circle cx="399.0" cy="206.7" r="4.7" fill="url(#gb)"/>
<circle cx="403.7" cy="208.4" r="4.7" fill="url(#gb)"/>
<circle cx="408.6" cy="208.4" r="4.7" fill="url(#gb)"/>
<circle cx="413.1" cy="208.7" r="4.7" fill="url(#gb)"/>
<circle cx="419.5" cy="211.4" r="4.7" fill="url(#gb)"/>
<circle cx="424.2" cy="225.5" r="4.7" fill="url(#gb)"/>
<circle cx="428.6" cy="242.0" r="4.7" fill="url(#gb)"/>
<circle cx="433.5" cy="245.3" r="4.7" fill="url(#gb)"/>
<circle cx="439.0" cy="242.0" r="4.7" fill="url(#gb)"/>
<circle cx="444.0" cy="255.7" r="4.7" fill="url(#gb)"/>
<circle cx="448.4" cy="252.4" r="4.7" fill="url(#gb)"/>
<path d="M96.8,249.0 L98.0,249.0 L99.2,249.0 L100.3,249.0 L101.5,249.0 L102.7,249.0 L103.9,249.0 L105.0,249.0 L106.2,249.0 L107.4,249.0 L108.6,249.0 L109.8,249.0 L110.9,249.0 L112.1,249.0 L113.3,249.0 L114.5,249.0 L115.6,249.0 L116.8,249.0 L118.0,248.9 L119.2,248.8 L120.4,248.7 L121.5,248.6 L122.7,248.5 L123.9,248.5 L125.1,248.6 L126.2,248.8 L127.4,249.1 L128.6,249.5 L129.8,250.0 L131.0,250.5 L132.1,251.2 L133.3,252.4 L134.5,253.7 L135.7,255.1 L136.8,256.5 L138.0,258.0 L139.2,259.7 L140.4,261.7 L141.6,264.0 L142.7,266.4 L143.9,269.1 L145.1,271.9 L146.3,274.6 L147.5,277.1 L148.6,279.5 L149.8,281.8 L151.0,284.0 L152.2,285.9 L153.3,287.8 L154.5,289.6 L155.7,291.2 L156.9,292.7 L158.1,294.2 L159.2,295.6 L160.4,297.0 L161.6,298.1 L162.8,298.9 L163.9,299.4 L165.1,299.9 L166.3,300.3 L167.5,300.5 L168.7,300.5 L169.8,300.2 L171.0,299.8 L172.2,299.3 L173.4,298.6 L174.5,297.9 L175.7,297.2 L176.9,296.4 L178.1,295.5 L179.3,294.4 L180.4,293.0 L181.6,291.5 L182.8,289.7 L184.0,287.1 L185.1,283.9 L186.3,280.6 L187.5,277.3 L188.7,274.3 L189.9,271.4 L191.0,268.5 L192.2,265.5 L193.4,262.5 L194.6,259.2 L195.7,255.7 L196.9,251.7 L198.1,247.4 L199.3,242.9 L200.5,238.3 L201.6,233.8 L202.8,229.5 L204.0,225.5 L205.2,222.1 L206.3,219.2 L207.5,216.7 L208.7,214.4 L209.9,212.4 L211.1,210.4 L212.2,208.6 L213.4,206.8 L214.6,205.1 L215.8,203.4 L216.9,201.8 L218.1,200.3 L219.3,199.1 L220.5,198.3 L221.7,197.6 L222.8,196.9 L224.0,196.4 L225.2,196.1 L226.4,196.0 L227.5,196.3 L228.7,196.8 L229.9,197.5 L231.1,198.4 L232.3,199.4 L233.4,200.5 L234.6,201.6 L235.8,202.8 L237.0,204.3 L238.2,206.0 L239.3,207.9 L240.5,210.0 L241.7,212.2 L242.9,214.4 L244.0,216.6 L245.2,218.7 L246.4,220.7 L247.6,222.6 L248.8,224.6 L249.9,226.5 L251.1,228.5 L252.3,230.5 L253.5,232.6 L254.6,234.7 L255.8,236.8 L257.0,238.7 L258.2,240.2 L259.4,241.5 L260.5,242.6 L261.7,243.7 L262.9,244.6 L264.1,245.4 L265.2,246.1 L266.4,246.8 L267.6,247.4 L268.8,248.0 L270.0,248.5 L271.1,248.8 L272.3,249.0 L273.5,249.2 L274.7,249.3 L275.8,249.5 L277.0,249.6 L278.2,249.7 L279.4,249.8 L280.6,249.9 L281.7,249.9 L282.9,250.0 L284.1,250.0 L285.3,250.0 L286.4,249.9 L287.6,249.6 L288.8,249.3 L290.0,248.9 L291.2,248.4 L292.3,248.0 L293.5,247.6 L294.7,247.3 L295.9,247.1 L297.0,247.0 L298.2,247.3 L299.4,248.0 L300.6,249.0 L301.8,249.9 L302.9,250.7 L304.1,251.5 L305.3,252.2 L306.5,253.1 L307.6,253.9 L308.8,254.9 L310.0,255.8 L311.2,256.9 L312.4,258.0 L313.5,259.2 L314.7,260.5 L315.9,262.0 L317.1,263.8 L318.3,266.0 L319.4,268.4 L320.6,270.9 L321.8,273.3 L323.0,275.4 L324.1,277.5 L325.3,279.4 L326.5,281.3 L327.7,283.1 L328.9,284.8 L330.0,286.5 L331.2,288.2 L332.4,290.1 L333.6,292.1 L334.7,294.1 L335.9,295.9 L337.1,297.3 L338.3,298.2 L339.5,298.8 L340.6,299.4 L341.8,299.9 L343.0,300.2 L344.2,300.5 L345.3,300.5 L346.5,300.3 L347.7,300.0 L348.9,299.6 L350.1,299.1 L351.2,298.4 L352.4,297.7 L353.6,296.7 L354.8,295.2 L355.9,293.4 L357.1,291.5 L358.3,289.5 L359.5,287.1 L360.7,284.4 L361.8,281.4 L363.0,278.2 L364.2,275.0 L365.4,271.7 L366.5,268.5 L367.7,265.2 L368.9,261.8 L370.1,258.3 L371.3,254.9 L372.4,251.5 L373.6,248.4 L374.8,245.2 L376.0,242.2 L377.1,239.4 L378.3,236.8 L379.5,234.4 L380.7,231.8 L381.9,228.9 L383.0,225.9 L384.2,222.9 L385.4,220.1 L386.6,217.2 L387.7,214.5 L388.9,211.8 L390.1,209.3 L391.3,206.8 L392.5,204.4 L393.6,202.3 L394.8,200.6 L396.0,199.2 L397.2,198.0 L398.3,197.3 L399.5,196.8 L400.7,196.5 L401.9,196.3 L403.1,196.4 L404.2,196.6 L405.4,196.9 L406.6,197.4 L407.8,197.9 L409.0,198.7 L410.1,199.7 L411.3,200.9 L412.5,202.2 L413.7,203.6 L414.8,205.0 L416.0,206.6 L417.2,208.3 L418.4,210.2 L419.6,212.1 L420.7,214.2 L421.9,216.3 L423.1,218.4 L424.3,220.6 L425.4,222.8 L426.6,225.3 L427.8,228.0 L429.0,230.8 L430.2,233.6 L431.3,236.1 L432.5,238.2 L433.7,240.0 L434.9,241.7 L436.0,243.2 L437.2,244.7 L438.4,245.9 L439.6,247.0 L440.8,247.9 L441.9,248.5 L443.1,249.2 L444.3,249.7 L445.5,250.3 L446.6,250.6 L447.8,250.9 L449.0,251.0" fill="none" stroke="#0000ff" stroke-width="2"/>
</g>
<rect x="96.8" y="49.3" width="352.2" height="284.0" fill="none" stroke="#000" stroke-width="2.2"/>
<line x1="90.8" y1="49.30" x2="96.8" y2="49.30" stroke="#000" stroke-width="2"/>
<line x1="93.3" y1="84.80" x2="96.8" y2="84.80" stroke="#000" stroke-width="2"/>
<line x1="90.8" y1="120.30" x2="96.8" y2="120.30" stroke="#000" stroke-width="2"/>
<line x1="93.3" y1="155.80" x2="96.8" y2="155.80" stroke="#000" stroke-width="2"/>
<line x1="90.8" y1="191.30" x2="96.8" y2="191.30" stroke="#000" stroke-width="2"/>
<line x1="93.3" y1="226.80" x2="96.8" y2="226.80" stroke="#000" stroke-width="2"/>
<line x1="90.8" y1="262.30" x2="96.8" y2="262.30" stroke="#000" stroke-width="2"/>
<line x1="93.3" y1="297.80" x2="96.8" y2="297.80" stroke="#000" stroke-width="2"/>
<line x1="90.8" y1="333.30" x2="96.8" y2="333.30" stroke="#000" stroke-width="2"/>
<text x="87.0" y="56.7" font-family="Liberation Sans, sans-serif" font-size="29" text-anchor="end">0</text>
<text x="87.0" y="127.7" font-family="Liberation Sans, sans-serif" font-size="29" text-anchor="end">-10</text>
<text x="87.0" y="198.7" font-family="Liberation Sans, sans-serif" font-size="29" text-anchor="end">-20</text>
<text x="87.0" y="269.7" font-family="Liberation Sans, sans-serif" font-size="29" text-anchor="end">-30</text>
<text x="87.0" y="340.7" font-family="Liberation Sans, sans-serif" font-size="29" text-anchor="end">-40</text>
<line x1="96.80" y1="333.3" x2="96.80" y2="339.3" stroke="#000" stroke-width="2"/>
<line x1="140.82" y1="333.3" x2="140.82" y2="336.8" stroke="#000" stroke-width="2"/>
<line x1="184.85" y1="333.3" x2="184.85" y2="339.3" stroke="#000" stroke-width="2"/>
<line x1="228.88" y1="333.3" x2="228.88" y2="336.8" stroke="#000" stroke-width="2"/>
<line x1="272.90" y1="333.3" x2="272.90" y2="339.3" stroke="#000" stroke-width="2"/>
<line x1="316.93" y1="333.3" x2="316.93" y2="336.8" stroke="#000" stroke-width="2"/>
<line x1="360.95" y1="333.3" x2="360.95" y2="339.3" stroke="#000" stroke-width="2"/>
<line x1="404.98" y1="333.3" x2="404.98" y2="336.8" stroke="#000" stroke-width="2"/>
<line x1="449.00" y1="333.3" x2="449.00" y2="339.3" stroke="#000" stroke-width="2"/>
<text x="97.5" y="363.8" font-family="Liberation Sans, sans-serif" font-size="29" text-anchor="middle">0</text>
<text x="182.2" y="363.8" font-family="Liberation Sans, sans-serif" font-size="29" text-anchor="middle">π/2</text>
<text x="272.9" y="363.8" font-family="Liberation Sans, sans-serif" font-size="29" text-anchor="middle">π</text>
<text x="359.9" y="363.8" font-family="Liberation Sans, sans-serif" font-size="29" text-anchor="middle">3π/2</text>
<text x="449.0" y="363.8" font-family="Liberation Sans, sans-serif" font-size="29" text-anchor="middle">2π</text>
<text transform="translate(23.9,195.35) rotate(-90)" font-family="Liberation Sans, sans-serif" font-size="32.6" text-anchor="middle">photocurrent (nA)</text>
<text x="0" y="0" transform="translate(229.6,398.5) scale(1.15,1)" font-family="Liberation Serif, serif" font-style="italic" font-size="31">θ</text>
<text transform="translate(247.8,405.6) scale(1.33,1)" font-family="Liberation Serif, serif" font-style="italic" font-size="23.5">λ</text>
<line x1="262.3" y1="409.3" x2="272.0" y2="388.4" stroke="#000" stroke-width="1.75"/>
<text transform="translate(274.3,405.1) scale(1.12,1) skewX(-6)" font-family="Liberation Serif, serif" font-size="23">4</text>
<circle cx="145.2" cy="79.4" r="4.9" fill="url(#gk)"/>
<text x="162.0" y="89.3" font-family="Liberation Sans, sans-serif" font-size="24.5">200 K</text>
<circle cx="322.4" cy="79.3" r="4.9" fill="url(#gr)"/>
<text x="336.4" y="89.3" font-family="Liberation Sans, sans-serif" font-size="24.5">125 K</text>
<circle cx="145.2" cy="109.3" r="4.9" fill="url(#go)"/>
<text x="162.3" y="118.0" font-family="Liberation Sans, sans-serif" font-size="24.5">78 K</text>
<circle cx="322.4" cy="109.3" r="4.9" fill="url(#gb)"/>
<text x="336.9" y="118.0" font-family="Liberation Sans, sans-serif" font-size="24.5">100 K</text>
<polygon points="79.85,24.75 91.85,18.55 89.05,23.40 105.15,23.40 102.35,18.55 114.35,24.75 102.35,30.95 105.15,26.10 89.05,26.10 91.85,30.95" fill="#000"/>
<polygon points="167.05,24.75 179.05,18.55 176.25,23.40 192.35,23.40 189.55,18.55 201.55,24.75 189.55,30.95 192.35,26.10 176.25,26.10 179.05,30.95" fill="#000"/>
<polygon points="254.25,24.75 266.25,18.55 263.45,23.40 279.55,23.40 276.75,18.55 288.75,24.75 276.75,30.95 279.55,26.10 263.45,26.10 266.25,30.95" fill="#000"/>
<polygon points="341.35,24.75 353.35,18.55 350.55,23.40 366.65,23.40 363.85,18.55 375.85,24.75 363.85,30.95 366.65,26.10 350.55,26.10 353.35,30.95" fill="#000"/>
<path d="M158.16,26.11 A17.4,17.4 0 1 0 137.18,41.92" fill="none" stroke="#0000ff" stroke-width="3.1"/><polygon points="146.95,41.20 134.10,36.30 137.50,40.50 136.30,48.50" fill="#0000ff"/>
<path d="M210.92,28.22 A17.4,17.4 0 1 1 229.52,42.23" fill="none" stroke="#ff0000" stroke-width="3.1"/><polygon points="219.50,40.20 232.60,37.20 229.50,41.00 228.30,48.40" fill="#ff0000"/>
<path d="M332.26,26.11 A17.4,17.4 0 1 0 311.28,41.92" fill="none" stroke="#0000ff" stroke-width="3.1"/><polygon points="321.05,41.20 308.20,36.30 311.60,40.50 310.40,48.50" fill="#0000ff"/>
<path d="M385.12,28.22 A17.4,17.4 0 1 1 403.72,42.23" fill="none" stroke="#ff0000" stroke-width="3.1"/><polygon points="393.70,40.20 406.80,37.20 403.70,41.00 402.50,48.40" fill="#ff0000"/>
<rect x="642.1" y="49.4" width="352.1" height="283.6" fill="none" stroke="#000" stroke-width="2.2"/>
<line x1="636.1" y1="333.00" x2="642.1" y2="333.00" stroke="#000" stroke-width="2"/>
<line x1="638.6" y1="297.55" x2="642.1" y2="297.55" stroke="#000" stroke-width="2"/>
<line x1="636.1" y1="262.10" x2="642.1" y2="262.10" stroke="#000" stroke-width="2"/>
<line x1="638.6" y1="226.65" x2="642.1" y2="226.65" stroke="#000" stroke-width="2"/>
<line x1="636.1" y1="191.20" x2="642.1" y2="191.20" stroke="#000" stroke-width="2"/>
<line x1="638.6" y1="155.75" x2="642.1" y2="155.75" stroke="#000" stroke-width="2"/>
<line x1="636.1" y1="120.30" x2="642.1" y2="120.30" stroke="#000" stroke-width="2"/>
<line x1="638.6" y1="84.85" x2="642.1" y2="84.85" stroke="#000" stroke-width="2"/>
<line x1="636.1" y1="49.40" x2="642.1" y2="49.40" stroke="#000" stroke-width="2"/>
<text x="629.6" y="340.2" font-family="Liberation Sans, sans-serif" font-size="29" text-anchor="end">0</text>
<text x="629.6" y="269.3" font-family="Liberation Sans, sans-serif" font-size="29" text-anchor="end">2</text>
<text x="629.6" y="198.4" font-family="Liberation Sans, sans-serif" font-size="29" text-anchor="end">4</text>
<text x="629.6" y="127.5" font-family="Liberation Sans, sans-serif" font-size="29" text-anchor="end">6</text>
<text x="629.6" y="56.6" font-family="Liberation Sans, sans-serif" font-size="29" text-anchor="end">8</text>
<line x1="642.10" y1="333.0" x2="642.10" y2="336.5" stroke="#000" stroke-width="2"/>
<line x1="706.10" y1="333.0" x2="706.10" y2="339.0" stroke="#000" stroke-width="2"/>
<line x1="770.10" y1="333.0" x2="770.10" y2="336.5" stroke="#000" stroke-width="2"/>
<line x1="834.10" y1="333.0" x2="834.10" y2="339.0" stroke="#000" stroke-width="2"/>
<line x1="898.10" y1="333.0" x2="898.10" y2="336.5" stroke="#000" stroke-width="2"/>
<line x1="962.10" y1="333.0" x2="962.10" y2="339.0" stroke="#000" stroke-width="2"/>
<text x="704.4" y="362.3" font-family="Liberation Sans, sans-serif" font-size="29" text-anchor="middle">100</text>
<text x="832.4" y="362.3" font-family="Liberation Sans, sans-serif" font-size="29" text-anchor="middle">200</text>
<text x="960.4" y="362.3" font-family="Liberation Sans, sans-serif" font-size="29" text-anchor="middle">300</text>
<text transform="translate(579.8,194.45) rotate(-90)" font-family="Liberation Sans, sans-serif" font-size="32.7" text-anchor="middle">CPGE (nA)</text>
<text x="824.6" y="397.2" font-family="Liberation Sans, sans-serif" font-size="32.5" text-anchor="middle"><tspan font-style="italic">T</tspan> (K)</text>
<polyline points="677.2,157.1 737.7,148.9 833.8,151.6 898.2,167.8" fill="none" stroke="#0000ff" stroke-width="2"/>
<circle cx="677.2" cy="157.1" r="5.7" fill="url(#gb)"/>
<circle cx="737.7" cy="148.9" r="5.7" fill="url(#gb)"/>
<circle cx="833.8" cy="151.6" r="5.7" fill="url(#gb)"/>
<circle cx="898.2" cy="167.8" r="5.7" fill="url(#gb)"/>
<polyline points="677.2,157.1 705.7,188.7 769.7,184 802.1,157.1 866,152.5 930,171.9 958.3,134.4" fill="none" stroke="#ff0000" stroke-width="2"/>
<circle cx="705.7" cy="188.7" r="5.7" fill="url(#gr)"/>
<circle cx="769.7" cy="184" r="5.7" fill="url(#gr)"/>
<circle cx="802.1" cy="157.1" r="5.7" fill="url(#gr)"/>
<circle cx="866" cy="152.5" r="5.7" fill="url(#gr)"/>
<circle cx="930" cy="171.9" r="5.7" fill="url(#gr)"/>
<circle cx="958.3" cy="134.4" r="5.7" fill="url(#gr)"/>
<circle cx="683" cy="266" r="5.7" fill="url(#gb)"/>
<text x="702" y="272.6" font-family="Liberation Sans, sans-serif" font-size="24.5">cooling down</text>
<circle cx="683" cy="295.8" r="5.7" fill="url(#gr)"/>
<text x="702" y="301.5" font-family="Liberation Sans, sans-serif" font-size="24.5">heating up</text>
</svg>
</body></html>
